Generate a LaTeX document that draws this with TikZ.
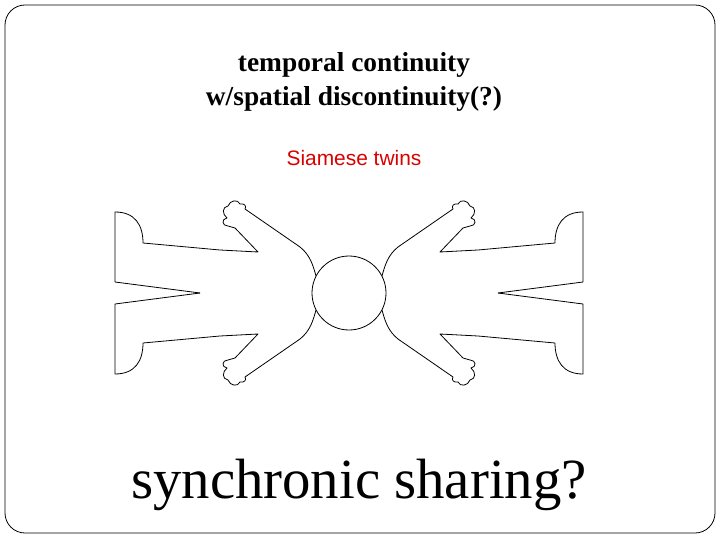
\documentclass[tikz,border=0pt]{standalone}
\usepackage{fontspec}
\setmainfont{Liberation Serif}
\newfontfamily\sansf{Liberation Sans}
\begin{document}
\begin{tikzpicture}[x=1bp,y=-1bp,
  outline/.style={draw=black,line width=0.8bp,line join=round},
  titletext/.style={font=\fontsize{27.5}{35}\selectfont\bfseries,align=center},
  redtext/.style={font=\sansf\fontsize{21}{24}\selectfont,text=red!85!black},
  bigtext/.style={font=\fontsize{57}{60}\selectfont}]
\useasboundingbox (0,0) rectangle (720,540);
\draw[black,line width=0.8bp,rounded corners=20bp] (5,5) rectangle (715,533);
\node[titletext] (title) at (354,82) {temporal continuity\\w/spatial discontinuity(?)};
\node[redtext] (sub) at (354,158) {Siamese twins};
\node[bigtext] (big) at (359,485) {synchronic sharing?};
\node[circle,outline,minimum size=74bp,inner sep=0] (head) at (349,293) {};
\foreach \sx in {1,-1}{\foreach \sy in {1,-1}{
\begin{scope}[shift={(349,293)},xscale=\sx,yscale=\sy]
\draw[outline] (-149,0) -- (-234,-11) -- (-234,-81)
 .. controls (-214,-81) and (-206,-68) .. (-206,-50)
 -- (-129,-43) -- (-91,-41) -- (-114,-65) -- (-121,-67)
 .. controls (-127,-67) and (-128,-74) .. (-122,-75)
 .. controls (-127,-79) and (-127,-86) .. (-121,-87)
 .. controls (-119,-93) and (-111,-94) .. (-109,-89)
 .. controls (-105,-90) and (-102,-87) .. (-104,-84)
 -- (-49,-46) .. controls (-39,-38) and (-36,-28) .. (-33,-17);
\end{scope}}}
\end{tikzpicture}
\end{document}
